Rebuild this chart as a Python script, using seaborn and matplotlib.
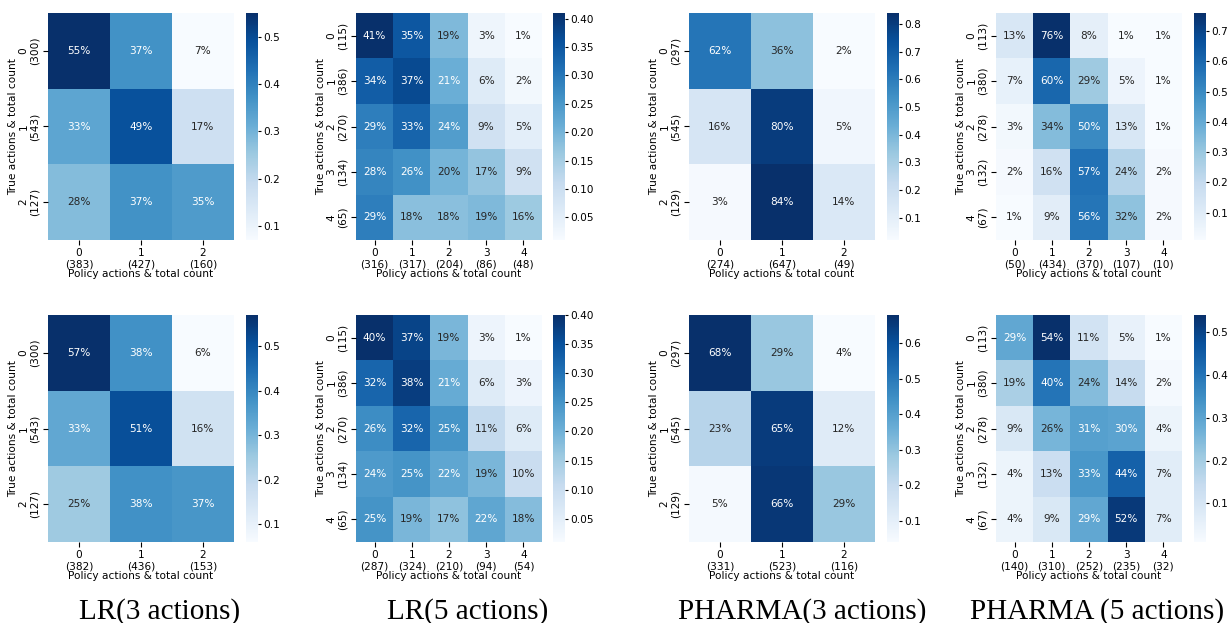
import matplotlib
matplotlib.use("Agg")
import matplotlib.pyplot as plt
import seaborn as sns
import numpy as np

# row-normalised confusion matrices (percent)
lr3_a = [[55, 37, 7], [33, 49, 17], [28, 37, 35]]
lr3_a_true = [300, 543, 127]
lr3_a_pol = [383, 427, 160]

lr5_a = [[41, 35, 19, 3, 1], [34, 37, 21, 6, 2], [29, 33, 24, 9, 5],
         [28, 26, 20, 17, 9], [29, 18, 18, 19, 16]]
lr5_a_true = [115, 386, 270, 134, 65]
lr5_a_pol = [316, 317, 204, 86, 48]

ph3_a = [[62, 36, 2], [16, 80, 5], [3, 84, 14]]
ph3_a_true = [297, 545, 129]
ph3_a_pol = [274, 647, 49]

ph5_a = [[13, 76, 8, 1, 1], [7, 60, 29, 5, 1], [3, 34, 50, 13, 1],
         [2, 16, 57, 24, 2], [1, 9, 56, 32, 2]]
ph5_a_true = [113, 380, 278, 132, 67]
ph5_a_pol = [50, 434, 370, 107, 10]

lr3_b = [[57, 38, 6], [33, 51, 16], [25, 38, 37]]
lr3_b_true = [300, 543, 127]
lr3_b_pol = [382, 436, 153]

lr5_b = [[40, 37, 19, 3, 1], [32, 38, 21, 6, 3], [26, 32, 25, 11, 6],
         [24, 25, 22, 19, 10], [25, 19, 17, 22, 18]]
lr5_b_true = [115, 386, 270, 134, 65]
lr5_b_pol = [287, 324, 210, 94, 54]

ph3_b = [[68, 29, 4], [23, 65, 12], [5, 66, 29]]
ph3_b_true = [297, 545, 129]
ph3_b_pol = [331, 523, 116]

ph5_b = [[29, 54, 11, 5, 1], [19, 40, 24, 14, 2], [9, 26, 31, 30, 4],
         [4, 13, 33, 44, 7], [4, 9, 29, 52, 7]]
ph5_b_true = [113, 380, 278, 132, 67]
ph5_b_pol = [140, 310, 252, 235, 32]

captions = ["LR(3 actions)", "LR(5 actions)", "PHARMA(3 actions)", "PHARMA (5 actions)"]

rows = [
    [(lr3_a, lr3_a_true, lr3_a_pol), (lr5_a, lr5_a_true, lr5_a_pol),
     (ph3_a, ph3_a_true, ph3_a_pol), (ph5_a, ph5_a_true, ph5_a_pol)],
    [(lr3_b, lr3_b_true, lr3_b_pol), (lr5_b, lr5_b_true, lr5_b_pol),
     (ph3_b, ph3_b_true, ph3_b_pol), (ph5_b, ph5_b_true, ph5_b_pol)],
]

fs = 7.6
plt.rcParams["font.size"] = fs
W, H = 1229, 623
fig = plt.figure(figsize=(W / 100, H / 100), dpi=100)

hm_x = [48, 356, 689, 996]
cb_x = [246, 553, 887, 1194]
row_top = [13, 315]
hm_w, hm_h, cb_w = 186, 227, 12

for r, row in enumerate(rows):
    for c, (mat, true_n, pol_n) in enumerate(row):
        top = row_top[r]
        ax = fig.add_axes([hm_x[c] / W, (H - top - hm_h) / H, hm_w / W, hm_h / H])
        cax = fig.add_axes([cb_x[c] / W, (H - top - hm_h) / H, cb_w / W, hm_h / H])
        vals = np.array(mat) / 100.0
        sns.heatmap(vals, ax=ax, cbar_ax=cax, cmap="Blues", annot=True, fmt=".0%",
                    annot_kws={"size": fs},
                    xticklabels=[f"{i}\n({n})" for i, n in enumerate(pol_n)],
                    yticklabels=[f"{i}\n({n})" for i, n in enumerate(true_n)])
        ax.set_xlabel("Policy actions & total count", labelpad=0)
        ax.set_ylabel("True actions & total count", labelpad=0)
        plt.setp(ax.get_yticklabels(), rotation=90, va="center", ha="center",
                 multialignment="center")
        ax.tick_params(axis="y", pad=10)
        ax.tick_params(axis="x", pad=2)
        plt.setp(ax.get_xticklabels(), rotation=0)
        cax.tick_params(labelsize=fs, length=2.5, pad=1.5)

cap_x = [160, 468, 802, 1097]
for c, txt in enumerate(captions):
    fig.text(cap_x[c] / W, 4 / H, txt, ha="center", va="baseline",
             family="Liberation Serif", fontsize=21)

fig.savefig("out.png", dpi=100)
